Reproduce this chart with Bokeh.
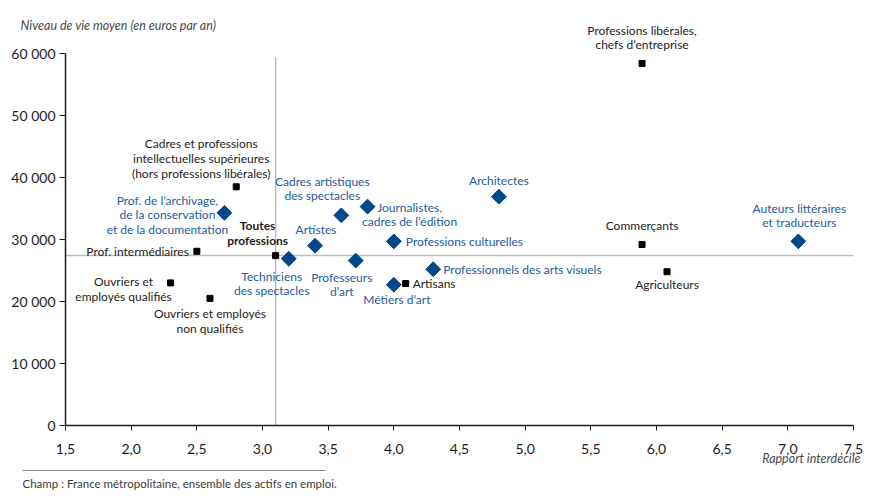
from bokeh.plotting import figure
from bokeh.layouts import column, row
from bokeh.models import Range1d, FixedTicker, Title, ColumnDataSource
from bokeh.core.properties import value
from bokeh.embed import file_html
from bokeh.resources import INLINE

# ---------------- data ----------------
x_ticks = [1.5, 2.0, 2.5, 3.0, 3.5, 4.0, 4.5, 5.0, 5.5, 6.0, 6.5, 7.0, 7.5]
x_tick_labels = ["1,5", "2,0", "2,5", "3,0", "3,5", "4,0", "4,5", "5,0", "5,5", "6,0", "6,5", "7,0", "7,5"]
y_ticks = [0, 10000, 20000, 30000, 40000, 50000, 60000]
y_tick_labels = ["0", "10 000", "20 000", "30 000", "40 000", "50 000", "60 000"]

# socio-professional categories (black squares)
cs_names = ["Professions libérales,\nchefs d\u2019entreprise",
            "Cadres et professions\nintellectuelles supérieures\n(hors professions libérales)",
            "Prof. intermédiaires",
            "Ouvriers et\nemployés qualifiés",
            "Ouvriers et employés\nnon qualifiés",
            "Artisans",
            "Commerçants",
            "Agriculteurs"]
cs_ratio = [5.89, 2.8, 2.5, 2.3, 2.6, 4.09, 5.89, 6.08]
cs_level = [58400, 38500, 28100, 23000, 20500, 22900, 29200, 24800]

# all professions (reference)
all_name = ["Toutes\nprofessions"]
all_ratio = [3.1]
all_level = [27400]

# cultural professions (blue diamonds)
cult_names = ["Prof. de l\u2019archivage,\nde la conservation\net de la documentation",
              "Techniciens\ndes spectacles",
              "Artistes",
              "Cadres artistiques\ndes spectacles",
              "Journalistes,\ncadres de l\u2019édition",
              "Professeurs\nd\u2019art",
              "Professions culturelles",
              "Métiers d\u2019art",
              "Professionnels des arts visuels",
              "Architectes",
              "Auteurs littéraires\net traducteurs"]
cult_ratio = [2.71, 3.2, 3.4, 3.6, 3.8, 3.71, 4.0, 4.0, 4.3, 4.8, 7.08]
cult_level = [34300, 26900, 29000, 33900, 35300, 26600, 29700, 22700, 25200, 36900, 29700]

y_title = "Niveau de vie moyen (en euros par an)"
x_title = "Rapport interdécile"
source_note = "Champ : France métropolitaine, ensemble des actifs en emploi."

# ---------------- layout (label placement, pixels) ----------------
cs_layout = [(0, -11, "center", "bottom"), (-35, -6, "center", "bottom"), (-8, 0, "right", "middle"),
             (-47, -9, "center", "top"), (0, 8, "center", "top"), (7, 0, "left", "middle"),
             (0, -11, "center", "bottom"), (0, 5, "center", "top")]
all_layout = [(-18, -8, "center", "bottom")]
cult_layout = [(-57, 2, "center", "middle"), (-17, 10, "center", "top"), (1, -9, "center", "bottom"),
               (-19, -12, "center", "bottom"), (42, -7, "center", "top"), (-14, 9, "center", "top"),
               (12, 0, "left", "middle"), (3, 7, "center", "top"), (10, 0, "left", "middle"),
               (0, -9, "center", "bottom"), (1, -11, "center", "bottom")]

W = 872
H_MAIN, H_NOTE = 470, 29
LEFT, TOP, FRAME_BOTTOM = 65, 20, 425
SX = 788 / 6.0          # px per unit of ratio
SY = 372 / 60000.0      # px per euro

FONT = "Lato"
BLUE = "#00478c"
BLUE_TXT = "#245c9c"
INK = "#1e1c1c"
GREY_TXT = "#4a4a4a"

p = figure(width=W, height=H_MAIN, output_backend="svg", toolbar_location=None,
           x_range=Range1d(1.5, 1.5 + (W - LEFT) / SX),
           y_range=Range1d(0, (FRAME_BOTTOM - TOP) / SY),
           min_border_left=LEFT, min_border_bottom=H_MAIN - FRAME_BOTTOM,
           min_border_top=TOP, min_border_right=0)
p.outline_line_color = None
p.grid.visible = False
p.background_fill_color = "white"
p.border_fill_color = "white"

# y-axis title, placed top-left
p.title.text = y_title
p.title.align = "left"
p.title.offset = -45
p.title.standoff = -25
p.title.vertical_align = "bottom"
p.title.text_font = FONT
p.title.text_font_size = "12.5px"
p.title.text_font_style = "italic"
p.title.text_color = GREY_TXT

# axes
p.xaxis.bounds = (x_ticks[0], x_ticks[-1])
p.yaxis.bounds = (y_ticks[0], y_ticks[-1])
p.xaxis.ticker = FixedTicker(ticks=x_ticks)
p.yaxis.ticker = FixedTicker(ticks=y_ticks)
p.xaxis.major_label_overrides = {t: l for t, l in zip(x_ticks, x_tick_labels)}
p.yaxis.major_label_overrides = {t: l for t, l in zip(y_ticks, y_tick_labels)}
for ax in (p.xaxis, p.yaxis):
    ax.axis_line_color = INK
    ax.axis_line_width = 1.5
    ax.major_tick_line_color = INK
    ax.major_tick_line_width = 1
    ax.major_tick_in = 0
    ax.minor_tick_out = 0
    ax.minor_tick_in = 0
    ax.major_label_text_font = FONT
    ax.major_label_text_font_size = "14px"
    ax.major_label_text_color = INK
p.xaxis.major_tick_out = 5
p.yaxis.major_tick_out = 6
p.xaxis.major_label_standoff = 13
p.yaxis.major_label_standoff = 4

# x-axis title, bottom right
p.add_layout(Title(text=x_title, align="right", offset=12, standoff=-12, vertical_align="top",
                   text_font=FONT, text_font_size="12.5px", text_font_style="italic",
                   text_color=GREY_TXT), "below")

# reference lines through "Toutes professions"
p.segment(x0=[all_ratio[0], x_ticks[0]], y0=[y_ticks[0], all_level[0]],
          x1=[all_ratio[0], x_ticks[-1]], y1=[59400, all_level[0]],
          line_color="#bdbdbd", line_width=1.5)

# markers
p.scatter(cs_ratio + all_ratio, cs_level + all_level, marker="square", size=6,
          fill_color="black", line_color="black")
p.scatter(cult_ratio, cult_level, marker="square", angle=0.785398, size=10.5,
          fill_color=BLUE, line_color=BLUE)


def labels(names, xs, ys, layout, color, style="normal"):
    src = ColumnDataSource(dict(x=xs, y=ys, text=names,
                                dx=[l[0] for l in layout], dy=[l[1] for l in layout],
                                al=[l[2] for l in layout], bl=[l[3] for l in layout]))
    p.text(x="x", y="y", text="text", x_offset="dx", y_offset="dy",
           text_align="al", text_baseline="bl", source=src,
           text_font=value(FONT), text_font_size="12px", text_color=color,
           text_font_style=style, text_line_height=0.98)


labels(cs_names, cs_ratio, cs_level, cs_layout, INK)
labels(all_name, all_ratio, all_level, all_layout, INK, "bold")
labels(cult_names, cult_ratio, cult_level, cult_layout, BLUE_TXT)

# ---------------- note strip (pixel coordinates, y downward) ----------------
pn = figure(width=W, height=H_NOTE, output_backend="svg", toolbar_location=None,
            x_range=Range1d(0, W), y_range=Range1d(H_NOTE, 0),
            x_axis_type=None, y_axis_type=None,
            min_border_left=0, min_border_right=0, min_border_top=0, min_border_bottom=0)
pn.outline_line_color = None
pn.grid.visible = False
pn.segment(x0=[22], y0=[0], x1=[325], y1=[0], line_color=INK, line_width=1)
pn.text(x=[22], y=[13], text=[source_note], text_font=value(FONT), text_font_size="11.5px",
        text_color="#3c3c3c", text_align="left", text_baseline="middle")

layout = column(p, row(pn, spacing=0), spacing=0)
open("out.html", "w").write(file_html(layout, INLINE))
